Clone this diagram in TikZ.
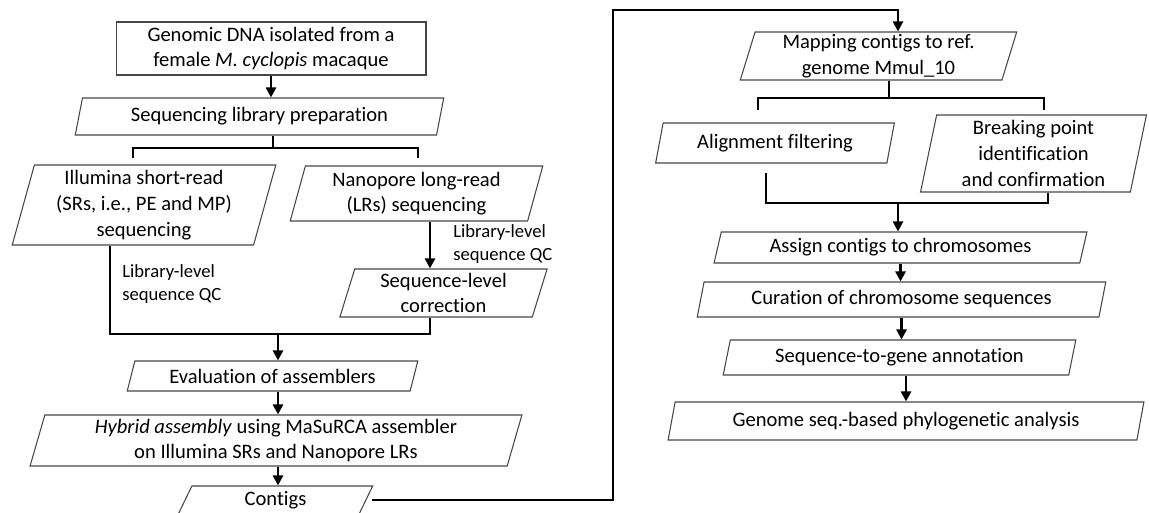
\documentclass[tikz,border=0pt]{standalone}
\usepackage{fontspec}
\setmainfont{Carlito}[Ligatures=NoCommon]
\usetikzlibrary{shapes.geometric,arrows.meta}

\newcommand{\boxfont}{\fontsize{11.7pt}{14.6pt}\selectfont}
\newcommand{\notefont}{\fontsize{10.6pt}{12.8pt}\selectfont}

\tikzset{
    stepbox/.style={draw=boxline, line width=0.6pt, align=center, font=\boxfont, inner sep=1pt},
    iobox/.style={stepbox, trapezium, trapezium left angle=76, trapezium right angle=104,
        trapezium stretches=true},
    note/.style={align=left, font=\notefont, inner sep=0pt, anchor=west},
    link/.style={line width=1.6pt},
    flow/.style={link, -{Triangle[length=0.2cm, width=0.2cm]}}
}

\begin{document}
\begin{tikzpicture}[x=0.02cm, y=-0.02cm]

    % Colors for the boxes
    \definecolor{boxline}{RGB}{70,70,70}

    \useasboundingbox (0,0) rectangle (1149,513);

    % Left column
    \node[stepbox, minimum width=6.2cm, minimum height=1.06cm] (dna) at (271,48.5)
        {Genomic DNA isolated from a\\female \textit{M. cyclopis} macaque};
    \node[iobox, minimum width=7.38cm, minimum height=0.74cm] (prep) at (259.5,116.5)
        {Sequencing library preparation};
    \node[iobox, minimum width=5.28cm, minimum height=1.6cm] (illumina) at (144,205)
        {Illumina short-read\\(SRs, i.e., PE and MP)\\sequencing};
    \node[iobox, minimum width=5.06cm, minimum height=1.1cm] (nanopore) at (416.5,193.5)
        {Nanopore long-read\\(LRs) sequencing};
    \node[iobox, minimum width=4.18cm, minimum height=0.96cm] (correct) at (443.5,293)
        {Sequence-level\\correction};
    \node[iobox, minimum width=5.82cm, minimum height=0.6cm, trapezium left angle=72,
        trapezium right angle=108] (evalasm) at (272.5,376)
        {Evaluation of assemblers};
    \node[iobox, minimum width=9.84cm, minimum height=1.02cm] (hybrid) at (276,440.5)
        {\textit{Hybrid assembly} using MaSuRCA assembler\\on Illumina SRs and Nanopore LRs};
    \node[iobox, minimum width=3.9cm, minimum height=0.56cm] (contigs) at (275.5,500)
        {Contigs};

    % QC notes
    \node[note] (qc1) at (122,284) {Library-level\\sequence QC};
    \node[note] (qc2) at (453,244) {Library-level\\sequence QC};

    % Right column
    \node[iobox, minimum width=5.54cm, minimum height=0.96cm] (mapping) at (878.5,56)
        {Mapping contigs to ref.\\genome Mmul\_10};
    \node[iobox, minimum width=4.8cm, minimum height=0.8cm] (align) at (775,143)
        {Alignment filtering};
    \node[iobox, minimum width=4.54cm, minimum height=1.54cm, trapezium left angle=80,
        trapezium right angle=100] (breaking) at (1033.5,153.5)
        {Breaking point\\identification\\and confirmation};
    \node[iobox, minimum width=7.46cm, minimum height=0.62cm] (assign) at (900.5,247.5)
        {Assign contigs to chromosomes};
    \node[iobox, minimum width=8.18cm, minimum height=0.7cm] (curation) at (901.5,299.5)
        {Curation of chromosome sequences};
    \node[iobox, minimum width=7.06cm, minimum height=0.7cm] (seqgene) at (899.5,357.5)
        {Sequence-to-gene annotation};
    \node[iobox, minimum width=9.52cm, minimum height=0.76cm] (genome) at (906,421)
        {Genome seq.-based phylogenetic analysis};

    % Turning points of the connectors
    \coordinate (fork1) at (273,148);
    \coordinate (fork1l) at (133,158);
    \coordinate (fork1r) at (418,158);
    \coordinate (colA) at (110,0);
    \coordinate (colB) at (430,0);
    \coordinate (join1) at (278,334);
    \coordinate (route1) at (613,10);
    \coordinate (colD) at (898,0);
    \coordinate (fork2) at (889,98);
    \coordinate (fork2l) at (758,110);
    \coordinate (fork2r) at (1044,110);
    \coordinate (join2l) at (766,173);
    \coordinate (join2) at (898,203);
    \coordinate (colE) at (1048,0);

    % Left column connectors
    \draw[flow] (dna.south) -- (dna.south |- prep.north);
    \draw[link] (fork1 |- prep.south) -- (fork1);
    \draw[link] (fork1l) |- (fork1) -| (fork1r);
    \draw[flow] (nanopore.south -| colB) -- (correct.north -| colB);
    \draw[link] (illumina.south -| colA) |- (join1) -| (correct.south -| colB);
    \draw[flow] (join1) -- (join1 |- evalasm.north);
    \draw[flow] (evalasm.south -| join1) -- (hybrid.north -| join1);
    \draw[flow] (hybrid.south -| join1) -- (contigs.north -| join1);

    % Contigs to the right column
    \draw[flow, shorten <=3pt] (contigs.east) -| (route1) -| (mapping.north -| colD);

    % Right column connectors
    \draw[link] (fork2 |- mapping.south) -- (fork2);
    \draw[link] (fork2l) |- (fork2) -| (fork2r);
    \draw[link] (join2l) |- (join2) -| (breaking.south -| colE);
    \draw[flow] (join2) -- (join2 |- assign.north);
    \draw[flow] (assign.south) -- (assign.south |- curation.north);
    \draw[flow] (curation.south) -- (curation.south |- seqgene.north);
    \draw[flow] (seqgene.south -| genome.north) -- (genome.north);

\end{tikzpicture}
\end{document}
